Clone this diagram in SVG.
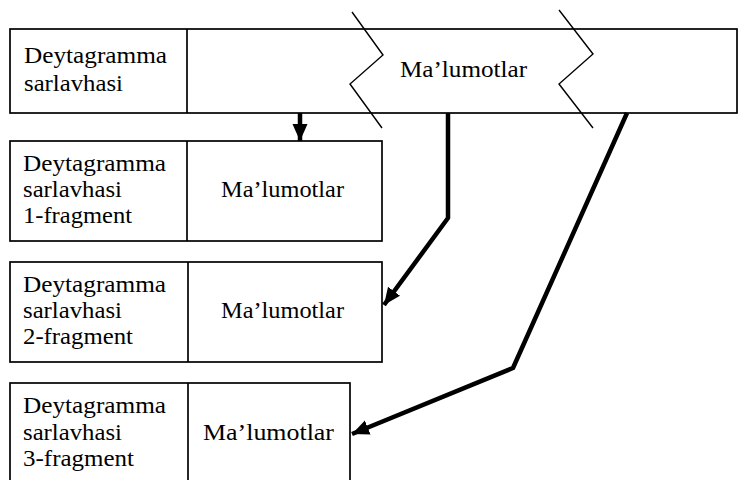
<svg xmlns="http://www.w3.org/2000/svg" width="738" height="480" viewBox="0 0 738 480">
  <style>
    .box { fill: #ffffff; stroke: #000000; stroke-width: 1.7; }
    .sep { stroke: #000000; stroke-width: 1.7; fill: none; }
    .cut { stroke: #000000; stroke-width: 1.4; fill: none; }
    .lbl { font-family: "Liberation Serif", "Times New Roman", serif; font-size: 23px; fill: #000000; }
    .wire { stroke: #000000; stroke-width: 4.5; fill: none; stroke-linejoin: round; marker-end: url(#head); }
  </style>
  <defs>
    <marker id="head" markerUnits="userSpaceOnUse" markerWidth="20" markerHeight="18" refX="17" refY="7.5" orient="auto">
      <path d="M0,0 L17,7.5 L0,15 Z" fill="#000000"/>
    </marker>
  </defs>

  <rect width="738" height="480" fill="#ffffff"/>

  <!-- original datagram -->
  <g id="datagram">
    <rect class="box" x="10" y="29" width="727" height="84"/>
    <line class="sep" x1="187" y1="29" x2="187" y2="113"/>
    <path class="cut" d="M352,12 L383,55 L350,84 L382,128"/>
    <path class="cut" d="M559,10 L593,54 L559,84 L593,128"/>
    <text class="lbl" x="24" y="63" textLength="143" lengthAdjust="spacingAndGlyphs">Deytagramma</text>
    <text class="lbl" x="24" y="91" textLength="99" lengthAdjust="spacingAndGlyphs">sarlavhasi</text>
    <text class="lbl" x="400" y="77" textLength="127" lengthAdjust="spacingAndGlyphs">Ma’lumotlar</text>
  </g>

  <!-- fragment 1 -->
  <g id="fragment1">
    <rect class="box" x="10" y="141" width="372" height="100"/>
    <line class="sep" x1="187" y1="141" x2="187" y2="241"/>
    <text class="lbl" x="23" y="171" textLength="143" lengthAdjust="spacingAndGlyphs">Deytagramma</text>
    <text class="lbl" x="23" y="197" textLength="99" lengthAdjust="spacingAndGlyphs">sarlavhasi</text>
    <text class="lbl" x="23" y="223" textLength="109" lengthAdjust="spacingAndGlyphs">1-fragment</text>
    <text class="lbl" x="221" y="197" textLength="123" lengthAdjust="spacingAndGlyphs">Ma’lumotlar</text>
  </g>

  <!-- fragment 2 -->
  <g id="fragment2">
    <rect class="box" x="10" y="262" width="372" height="100"/>
    <line class="sep" x1="188" y1="262" x2="188" y2="362"/>
    <text class="lbl" x="23" y="292" textLength="143" lengthAdjust="spacingAndGlyphs">Deytagramma</text>
    <text class="lbl" x="23" y="318" textLength="99" lengthAdjust="spacingAndGlyphs">sarlavhasi</text>
    <text class="lbl" x="23" y="344" textLength="110" lengthAdjust="spacingAndGlyphs">2-fragment</text>
    <text class="lbl" x="221" y="318" textLength="123" lengthAdjust="spacingAndGlyphs">Ma’lumotlar</text>
  </g>

  <!-- fragment 3 -->
  <g id="fragment3">
    <rect class="box" x="10" y="383" width="340" height="100"/>
    <line class="sep" x1="188" y1="383" x2="188" y2="480"/>
    <text class="lbl" x="23" y="413" textLength="143" lengthAdjust="spacingAndGlyphs">Deytagramma</text>
    <text class="lbl" x="23" y="440" textLength="99" lengthAdjust="spacingAndGlyphs">sarlavhasi</text>
    <text class="lbl" x="23" y="466" textLength="111" lengthAdjust="spacingAndGlyphs">3-fragment</text>
    <text class="lbl" x="203" y="440" textLength="131" lengthAdjust="spacingAndGlyphs">Ma’lumotlar</text>
  </g>

  <!-- connectors -->
  <g id="connectors">
    <path class="wire" d="M300,113 L300,141"/>
    <path class="wire" d="M448,113 L448,218 L384,305"/>
    <path class="wire" d="M627,113 L513,368 L352,434"/>
  </g>
</svg>
